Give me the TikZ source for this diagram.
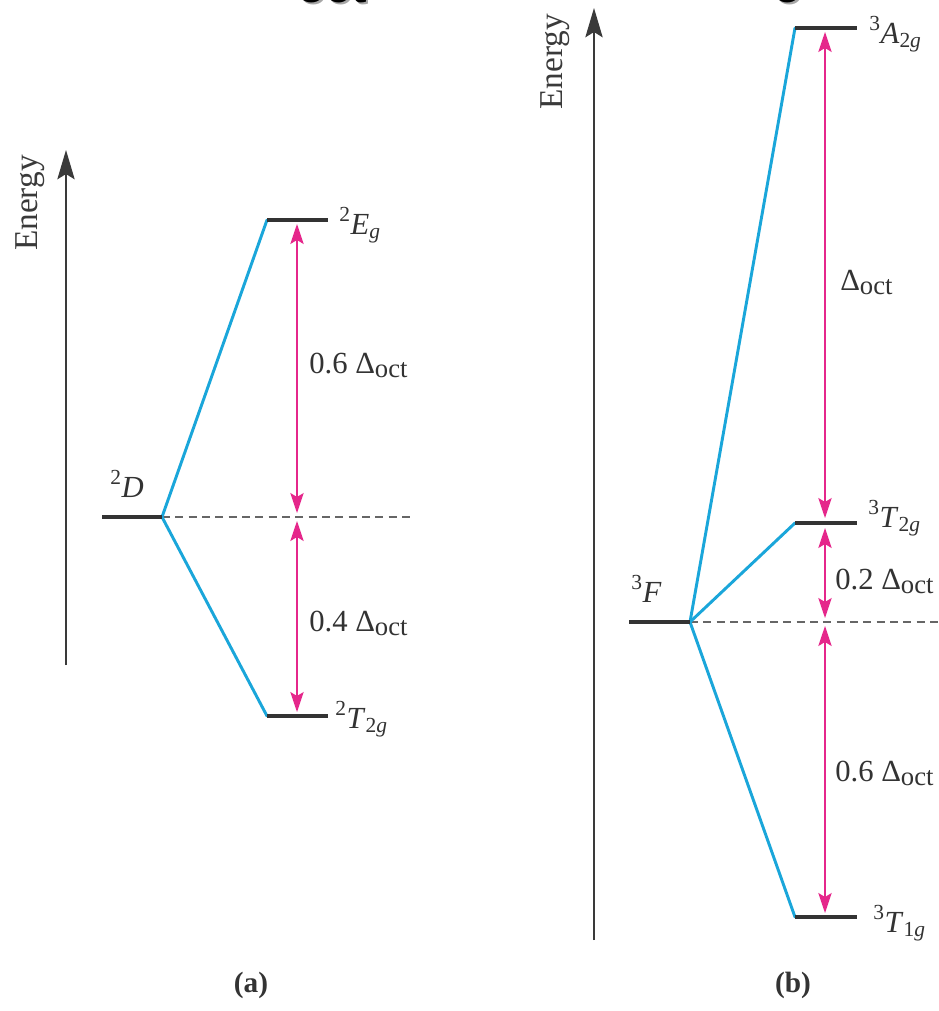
\documentclass[tikz,border=0pt]{standalone}
\usepackage{fontspec}
\setmainfont{Liberation Serif}
\newfontfamily\hsans{Liberation Sans}
\usetikzlibrary{arrows.meta}
\definecolor{lvl}{HTML}{333333}
\definecolor{splitc}{HTML}{1AA6DA}
\definecolor{pinkc}{HTML}{E5278B}
\definecolor{axisc}{HTML}{3A3A3A}
\definecolor{dashc}{HTML}{666666}
\newcommand{\Doct}{Δ\raisebox{-0.15em}{\fontsize{20}{20}\selectfont oct}}
\tikzset{
  lvline/.style={draw=lvl, line width=2.3pt},
  splitline/.style={draw=splitc, line width=2.2pt, line cap=round, line join=round},
  gaparrow/.style={draw=pinkc, line width=1.1pt,
     {Stealth[length=15pt,width=10pt,inset=3pt]}-{Stealth[length=15pt,width=10pt,inset=3pt]}},
  axisarrow/.style={draw=axisc, line width=1.1pt, -{Stealth[length=22pt,width=13pt,inset=4pt]}},
  refline/.style={draw=dashc, line width=1.1pt, dash pattern=on 6pt off 4pt},
  lab/.style={font=\fontsize{23}{27}\selectfont, text=lvl, anchor=base west, inner sep=0pt},
  energylab/.style={font=\fontsize{25}{28}\selectfont, text=axisc, rotate=90, inner sep=0pt},
  panellab/.style={font=\fontsize{22}{26}\selectfont\bfseries, text=lvl, inner sep=0pt},
  fragment/.style={font=\fontsize{35}{35}\selectfont\hsans\bfseries, anchor=base west, inner sep=0pt}
}
\begin{document}
\begin{tikzpicture}[x=0.75pt,y=-0.75pt]
\useasboundingbox (0,0) rectangle (939,1011);
\clip (0,0) rectangle (939,1011);
\fill[white] (0,0) rectangle (939,1011);
% cropped title fragments
\node[fragment, text=black!35] (frA2) at (299,4) {oct};
\node[fragment, text=black] (frA) at (297,2) {oct};
\node[fragment, text=black!35] (frB2) at (775,4) {o};
\node[fragment, text=black] (frB) at (773,2) {o};

% ---------------- panel (a)
\coordinate (aAxS) at (66,665);
\coordinate (aAxE) at (66,150);
\draw[axisarrow] (aAxS) -- (aAxE);
\node[energylab] (aEn) at (30,203) {Energy};

\coordinate (Dl) at (102,517);
\coordinate (Dr) at (162,517);
\coordinate (Dend) at (413,517);
\coordinate (Egl) at (267,220);
\coordinate (Egr) at (328,220);
\coordinate (Tgl) at (267,716);
\coordinate (Tgr) at (328,716);
\draw[refline] (Dr) -- (Dend);
\draw[splitline] (Egl) -- (Dr) -- (Tgl);
\draw[lvline] (Dl) -- (Dr);
\draw[lvline] (Egl) -- (Egr);
\draw[lvline] (Tgl) -- (Tgr);

\coordinate (aP1) at (297,224);
\coordinate (aP2) at (297,513);
\coordinate (aP3) at (297,521);
\coordinate (aP4) at (297,712);
\draw[gaparrow] (aP1) -- (aP2);
\draw[gaparrow] (aP3) -- (aP4);

\node[lab] (labD) at (110,497) {\textsuperscript{2}\textit{D}};
\node[lab] (labEg) at (339,234) {\textsuperscript{2}\textit{E}\textsubscript{\textit{g}}};
\node[lab] (labT2a) at (335,728) {\textsuperscript{2}\textit{T}\textsubscript{2\textit{g}}};
\node[lab] (labA6) at (309,373) {0.6 \Doct};
\node[lab] (labA4) at (309,631) {0.4 \Doct};
\node[panellab] (pa) at (251,985) {(a)};

% ---------------- panel (b)
\coordinate (bAxS) at (594,940);
\coordinate (bAxE) at (594,8);
\draw[axisarrow] (bAxS) -- (bAxE);
\node[energylab] (bEn) at (555,62) {Energy};

\coordinate (Fl) at (629,622);
\coordinate (Fr) at (690,622);
\coordinate (Fend) at (945,622);
\coordinate (A2l) at (795,28);
\coordinate (A2r) at (857,28);
\coordinate (T2l) at (795,523);
\coordinate (T2r) at (857,523);
\coordinate (T1l) at (795,917);
\coordinate (T1r) at (857,917);
\draw[refline] (Fr) -- (Fend);
\draw[splitline] (A2l) -- (Fr) -- (T1l);
\draw[splitline] (Fr) -- (T2l);
\draw[lvline] (Fl) -- (Fr);
\draw[lvline] (A2l) -- (A2r);
\draw[lvline] (T2l) -- (T2r);
\draw[lvline] (T1l) -- (T1r);

\coordinate (bP1) at (825,32);
\coordinate (bP2) at (825,518);
\coordinate (bP3) at (825,528);
\coordinate (bP4) at (825,618);
\coordinate (bP5) at (825,626);
\coordinate (bP6) at (825,913);
\draw[gaparrow] (bP1) -- (bP2);
\draw[gaparrow] (bP3) -- (bP4);
\draw[gaparrow] (bP5) -- (bP6);

\node[lab] (labF) at (631,602) {\textsuperscript{3}\textit{F}};
\node[lab] (labA2) at (869,43) {\textsuperscript{3}\textit{A}\textsubscript{2\textit{g}}};
\node[lab] (labT2b) at (868,527) {\textsuperscript{3}\textit{T}\textsubscript{2\textit{g}}};
\node[lab] (labT1) at (873,932) {\textsuperscript{3}\textit{T}\textsubscript{1\textit{g}}};
\node[lab] (labB1) at (840,290) {\Doct};
\node[lab] (labB2) at (835,589) {0.2 \Doct};
\node[lab] (labB6) at (835,781) {0.6 \Doct};
\node[panellab] (pb) at (793,985) {(b)};
\end{tikzpicture}
\end{document}
